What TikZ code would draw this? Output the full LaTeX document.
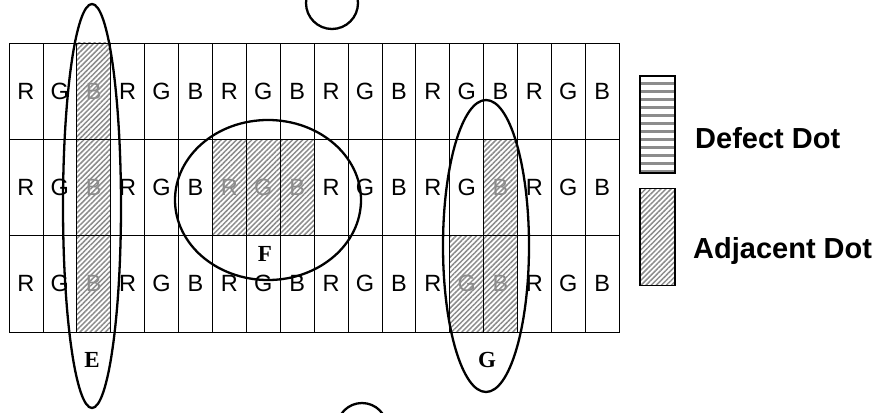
\documentclass[tikz,border=0pt]{standalone}
\usepackage{fontspec}
\newfontfamily\arialfont{Liberation Sans}
\newfontfamily\romanfont{Liberation Serif}
\usetikzlibrary{patterns.meta,positioning}

\begin{document}
\begin{tikzpicture}[
    x=1pt, y=-1pt,
    cell/.style={rectangle, draw, line width=0.8pt, minimum width=33.9pt, minimum height=96.3pt, inner sep=0pt, font=\arialfont\fontsize{23.5}{24}\selectfont},
    hatchcell/.style={preaction={fill=white}, pattern={Lines[angle=45,distance=3.6pt,line width=1.5pt]}, pattern color=black!45, text=black!45},
    ring/.style={draw, line width=2.3pt},
    tag/.style={inner sep=0pt, font=\romanfont\bfseries\fontsize{23}{23}\selectfont},
    legbox/.style={rectangle, draw, line width=1.2pt, minimum width=35pt, minimum height=97pt, inner sep=0pt},
    legtext/.style={anchor=base west, inner sep=0pt, font=\arialfont\bfseries\fontsize{29}{29}\selectfont}
]
\useasboundingbox (0,0) rectangle (880,412);

% RGB dot grid
\foreach \r in {0,1,2}
  \foreach \l [count=\c from 0] in {R,G,B,R,G,B,R,G,B,R,G,B,R,G,B,R,G,B}
    \node[cell] (c-\r-\c) at ({9+33.9*(\c+0.5)}, {43+96.3*(\r+0.5)}) {\l};

% Adjacent dots
\foreach \r/\c/\l in {0/2/B,1/2/B,2/2/B,1/6/R,1/7/G,1/8/B,1/14/B,2/13/G,2/14/B}
  \node[cell, hatchcell] (h-\r-\c) at (c-\r-\c) {\l};

% Regions E, F, G
\draw[ring] (92,206) ellipse [x radius=29pt, y radius=202pt];
\node[tag] (labE) at (92,360) {E};
\draw[ring] (268,200) ellipse [x radius=93pt, y radius=80pt];
\node[tag] (labF) at (265,254) {F};
\draw[ring] (486,246) ellipse [x radius=43pt, y radius=146pt];
\node[tag] (labG) at (487,360) {G};

% cut-off rings at the edges
\draw[ring] (332,3) circle [radius=26pt];
\draw[ring] (362,428) circle [radius=25pt];

% Legend
\node[legbox, pattern={Lines[angle=0,distance=8pt,line width=3pt]}, pattern color=black!45] (defect) at (657.5,124.5) {};
\node[legbox, below=13pt of defect, pattern={Lines[angle=45,distance=3.6pt,line width=1.5pt]}, pattern color=black!45] (adjacent) {};
\node[legtext] (deftxt) at (695,148) {Defect Dot};
\node[legtext] (adjtxt) at (693,258) {Adjacent Dot};

\end{tikzpicture}
\end{document}
